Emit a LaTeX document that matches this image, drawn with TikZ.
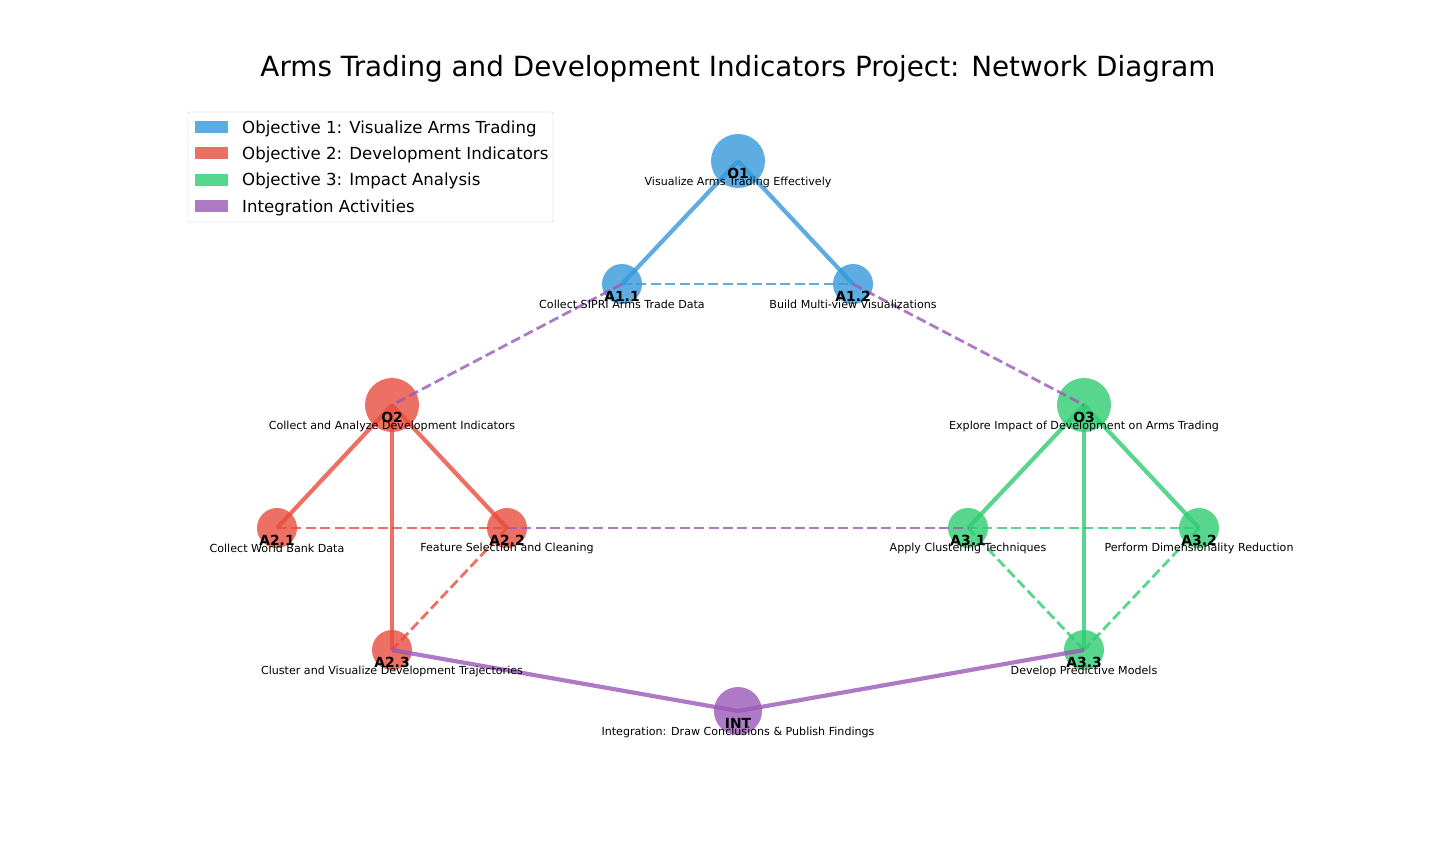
\documentclass[tikz,border=0pt]{standalone}
\usepackage{fontspec}
\setmainfont{DejaVu Sans}
\usetikzlibrary{positioning}
\definecolor{objblue}{HTML}{3498DB}
\definecolor{objred}{HTML}{E74C3C}
\definecolor{objgreen}{HTML}{2ECC71}
\definecolor{intpurple}{HTML}{9B59B6}

\begin{document}
\begin{tikzpicture}
[x=1pt,y=-1pt,line cap=butt]
  \tikzstyle{goal}=[circle,inner sep=0pt,minimum size=54pt,fill opacity=0.8]
  \tikzstyle{task}=[circle,inner sep=0pt,minimum size=40pt,fill opacity=0.8]
  \tikzstyle{hub}=[circle,inner sep=0pt,minimum size=48pt,fill opacity=0.8]
  \tikzstyle{tie}=[line width=4.2pt,draw opacity=0.8]
  \tikzstyle{loose}=[line width=2.8pt,draw opacity=0.8,dash pattern=on 10pt off 4.4pt]
  \tikzstyle{idtxt}=[font=\fontsize{13.9}{16}\selectfont\bfseries,inner sep=0pt]
  \tikzstyle{desc}=[font=\fontsize{11.1}{13}\selectfont,inner sep=0pt]
  \tikzstyle{patch}=[minimum width=33pt,minimum height=12pt,inner sep=0pt,fill opacity=0.8]
  \tikzstyle{keytxt}=[font=\fontsize{16.6}{19}\selectfont,anchor=west,inner sep=0pt]

  \useasboundingbox (0,0) rectangle (1440,864);

  \node (title) at (738,69) {\fontsize{27.8}{32}\selectfont Arms Trading and Development Indicators Project: Network Diagram};

  % circles
  \node[goal,fill=objblue]    (O1)  at (738,161) {};
  \node[task,fill=objblue]    (A11) at (622,284) {};
  \node[task,fill=objblue]    (A12) at (853,284) {};
  \node[goal,fill=objred]     (O2)  at (392,405) {};
  \node[task,fill=objred]     (A21) at (277,528) {};
  \node[task,fill=objred]     (A22) at (507,528) {};
  \node[task,fill=objred]     (A23) at (392,650) {};
  \node[goal,fill=objgreen]   (O3)  at (1084,405) {};
  \node[task,fill=objgreen]   (A31) at (968,528) {};
  \node[task,fill=objgreen]   (A32) at (1199,528) {};
  \node[task,fill=objgreen]   (A33) at (1084,650) {};
  \node[hub,fill=intpurple]   (INT) at (738,711) {};

  \path[tie,objblue]  (O1.center) edge (A11.center)
                                  edge (A12.center);
  \path[loose,objblue] (A11.center) edge (A12.center);
  \path[tie,objred]   (O2.center) edge (A21.center)
                                  edge (A22.center)
                                  edge (A23.center);
  \path[loose,objred] (A21.center) edge (A22.center)
                      (A22.center) edge (A23.center);
  \path[tie,objgreen] (O3.center) edge (A31.center)
                                  edge (A32.center)
                                  edge (A33.center);
  \path[loose,objgreen] (A31.center) edge (A32.center)
                                     edge (A33.center)
                        (A32.center) edge (A33.center);
  \path[loose,intpurple] (A11.center) edge (O2.center)
                         (A12.center) edge (O3.center)
                         (A22.center) edge (A31.center);
  \path[tie,intpurple] (A23.center) edge (INT.center)
                       (A33.center) edge (INT.center);

  % labels
  \node[idtxt] (O1id)  at ([yshift=-12pt]O1.center)  {O1};
  \node[desc]  (O1tx)  at ([yshift=-21pt]O1.center)  {Visualize Arms Trading Effectively};
  \node[idtxt] (A11id) at ([yshift=-12pt]A11.center) {A1.1};
  \node[desc]  (A11tx) at ([yshift=-20pt]A11.center) {Collect SIPRI Arms Trade Data};
  \node[idtxt] (A12id) at ([yshift=-12pt]A12.center) {A1.2};
  \node[desc]  (A12tx) at ([yshift=-20pt]A12.center) {Build Multi-view Visualizations};
  \node[idtxt] (O2id)  at ([yshift=-12pt]O2.center)  {O2};
  \node[desc]  (O2tx)  at ([yshift=-21pt]O2.center)  {Collect and Analyze Development Indicators};
  \node[idtxt] (A21id) at ([yshift=-12pt]A21.center) {A2.1};
  \node[desc]  (A21tx) at ([yshift=-20pt]A21.center) {Collect World Bank Data};
  \node[idtxt] (A22id) at ([yshift=-12pt]A22.center) {A2.2};
  \node[desc]  (A22tx) at ([yshift=-20pt]A22.center) {Feature Selection and Cleaning};
  \node[idtxt] (A23id) at ([yshift=-12pt]A23.center) {A2.3};
  \node[desc]  (A23tx) at ([yshift=-21pt]A23.center) {Cluster and Visualize Development Trajectories};
  \node[idtxt] (O3id)  at ([yshift=-12pt]O3.center)  {O3};
  \node[desc]  (O3tx)  at ([yshift=-21pt]O3.center)  {Explore Impact of Development on Arms Trading};
  \node[idtxt] (A31id) at ([yshift=-12pt]A31.center) {A3.1};
  \node[desc]  (A31tx) at ([yshift=-20pt]A31.center) {Apply Clustering Techniques};
  \node[idtxt] (A32id) at ([yshift=-12pt]A32.center) {A3.2};
  \node[desc]  (A32tx) at ([yshift=-20pt]A32.center) {Perform Dimensionality Reduction};
  \node[idtxt] (A33id) at ([yshift=-12pt]A33.center) {A3.3};
  \node[desc]  (A33tx) at ([yshift=-21pt]A33.center) {Develop Predictive Models};
  \node[idtxt] (INTid) at ([yshift=-12pt]INT.center) {INT};
  \node[desc]  (INTtx) at ([yshift=-21pt]INT.center) {Integration: Draw Conclusions \& Publish Findings};

  % legend
  \draw[black!20,fill=white,rounded corners=2pt] (188,112) rectangle (553,222);
  \node[patch,fill=objblue]   (k1) at (211.5,127) {};
  \node[patch,fill=objred]    (k2) at (211.5,153) {};
  \node[patch,fill=objgreen]  (k3) at (211.5,180) {};
  \node[patch,fill=intpurple] (k4) at (211.5,206) {};
  \node[keytxt] (k1tx) at (242,128.5) {Objective 1: Visualize Arms Trading};
  \node[keytxt] (k2tx) at (242,154.5) {Objective 2: Development Indicators};
  \node[keytxt] (k3tx) at (242,181) {Objective 3: Impact Analysis};
  \node[keytxt] (k4tx) at (242,207.5) {Integration Activities};
\end{tikzpicture}
\end{document}
